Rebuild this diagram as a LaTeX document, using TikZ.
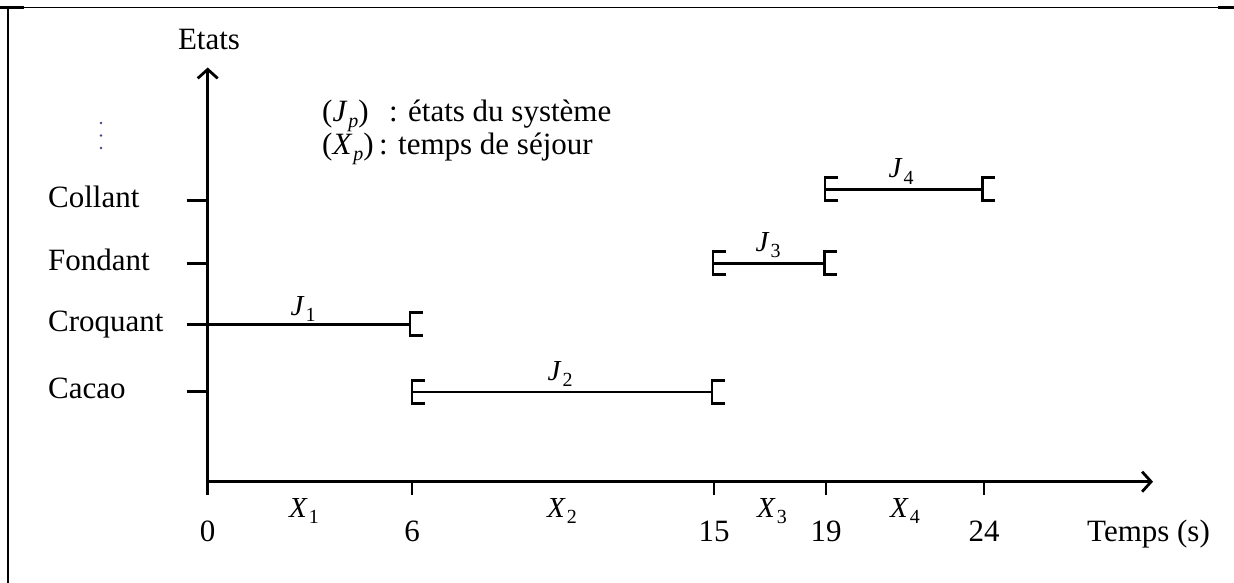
\documentclass[tikz,border=0pt]{standalone}
\usepackage{fontspec}
\setmainfont{Liberation Serif}
\usetikzlibrary{arrows.meta}
\newcommand\mvar[2]{\textit{#1}\kern1pt\raisebox{-6pt}{\fontsize{20}{24}\selectfont #2}}
\tikzset{
  txt/.style={font=\fontsize{31}{37}\selectfont, inner sep=0pt},
  mth/.style={font=\fontsize{29}{34}\selectfont, inner sep=0pt},
  axis/.style={line width=2.8pt, -{Straight Barb[length=9pt,width=20pt,line width=2.8pt]}},
  tickline/.style={line width=2.6pt},
  seg/.style={line width=2.6pt},
  frameline/.style={line width=1.4pt},
  brk/.pic={\draw[line width=2.7pt, line cap=butt, line join=miter] (12.5,-11.5) -- (0,-11.5) -- (0,11.5) -- (12.5,11.5);}
}
\begin{document}
\begin{tikzpicture}[x=1pt,y=-1pt]
\useasboundingbox (0,0) rectangle (1234,583);
\fill[white] (0,0) rectangle (1234,583);
% frame
\coordinate (fbl) at (7.8,583);
\coordinate (ftl) at (7.8,7.6);
\coordinate (ftr) at (1234,7.6);
\draw[frameline] (ftr) -- (ftl);
\draw[line width=2.3pt] (ftl) -- (fbl);
\draw[line width=2.6pt] (0,7.4) -- (24,7.4);
\draw[line width=2.4pt] (1218,7.6) -- (1234,7.6);
% axes
\coordinate (O) at (207.7,481.7);
\coordinate (Ob) at (207.7,495);
\coordinate (ytop) at (207.7,67.5);
\coordinate (xend) at (1153,481.7);
\draw[axis] (Ob) -- (ytop);
\draw[axis] (O) -- (xend);
\node[txt, anchor=base] (etats) at (209,49.3) {Etats};
% y ticks and labels
\foreach \nm/\lbl/\yt/\yb in {collant/Collant/200.7/207.7, fondant/Fondant/263.3/270, croquant/Croquant/324.3/331.7, cacao/Cacao/391.7/398}{
  \node[txt, anchor=base west] (\nm) at (48,\yb) {\lbl};
  \coordinate (t\nm) at (186.7,\yt);
  \coordinate (a\nm) at (209,\yt);
  \draw[tickline] (t\nm) -- (a\nm);
}
% vertical dots
\foreach \yy in {123,135.5,148}{
  \fill[black!45!blue!45!gray] (101,\yy) circle (1.4);
}
% x ticks and labels
\foreach \nm/\lbl/\xx in {t6/6/412, t15/15/714, t19/19/826, t24/24/984}{
  \coordinate (\nm a) at (\xx,481.7);
  \coordinate (\nm b) at (\xx,495);
  \draw[tickline] (\nm a) -- (\nm b);
  \node[txt, anchor=base] (n\nm) at (\xx,541.7) {\lbl};
}
\node[txt, anchor=base] (n0) at (207.7,541.7) {0};
\node[txt, anchor=base west] (temps) at (1087,541.7) {Temps (s)};
% X labels
\node[mth, anchor=base] (X1) at (304,517) {\mvar{X}{1}};
\node[mth, anchor=base] (X2) at (562,517) {\mvar{X}{2}};
\node[mth, anchor=base] (X3) at (772,517) {\mvar{X}{3}};
\node[mth, anchor=base] (X4) at (905,517) {\mvar{X}{4}};
% legend
\node[txt, anchor=base west] (leg1m) at (322,121.7) {(\mvar{J}{\textit{p}})};
\node[txt, anchor=base west] (leg1) at (389,121.7) {: états du système};
\node[txt, anchor=base west] (leg2m) at (322,154) {(\mvar{X}{\textit{p}})};
\node[txt, anchor=base west] (leg2) at (379,154) {: temps de séjour};
% intervals
\coordinate (j1a) at (186.7,324.3);
\coordinate (j1b) at (410,324.3);
\coordinate (j2a) at (412,392);
\coordinate (j2b) at (712,392);
\coordinate (j3a) at (713,263.3);
\coordinate (j3b) at (824.5,263.3);
\coordinate (j4a) at (825,189.3);
\coordinate (j4b) at (982.5,189.3);
\draw[seg] (j1a) -- (j1b);
\draw[seg] (j2a) -- (j2b);
\draw[seg] (j3a) -- (j3b);
\draw[seg] (j4a) -- (j4b);
\foreach \c in {j1b,j2a,j2b,j3a,j3b,j4a,j4b}{
  \pic at (\c) {brk};
}
\node[mth, anchor=base] (J1) at (303,315) {\mvar{J}{1}};
\node[mth, anchor=base] (J2) at (560,380) {\mvar{J}{2}};
\node[mth, anchor=base] (J3) at (768,251.7) {\mvar{J}{3}};
\node[mth, anchor=base] (J4) at (901,178) {\mvar{J}{4}};
\end{tikzpicture}
\end{document}
